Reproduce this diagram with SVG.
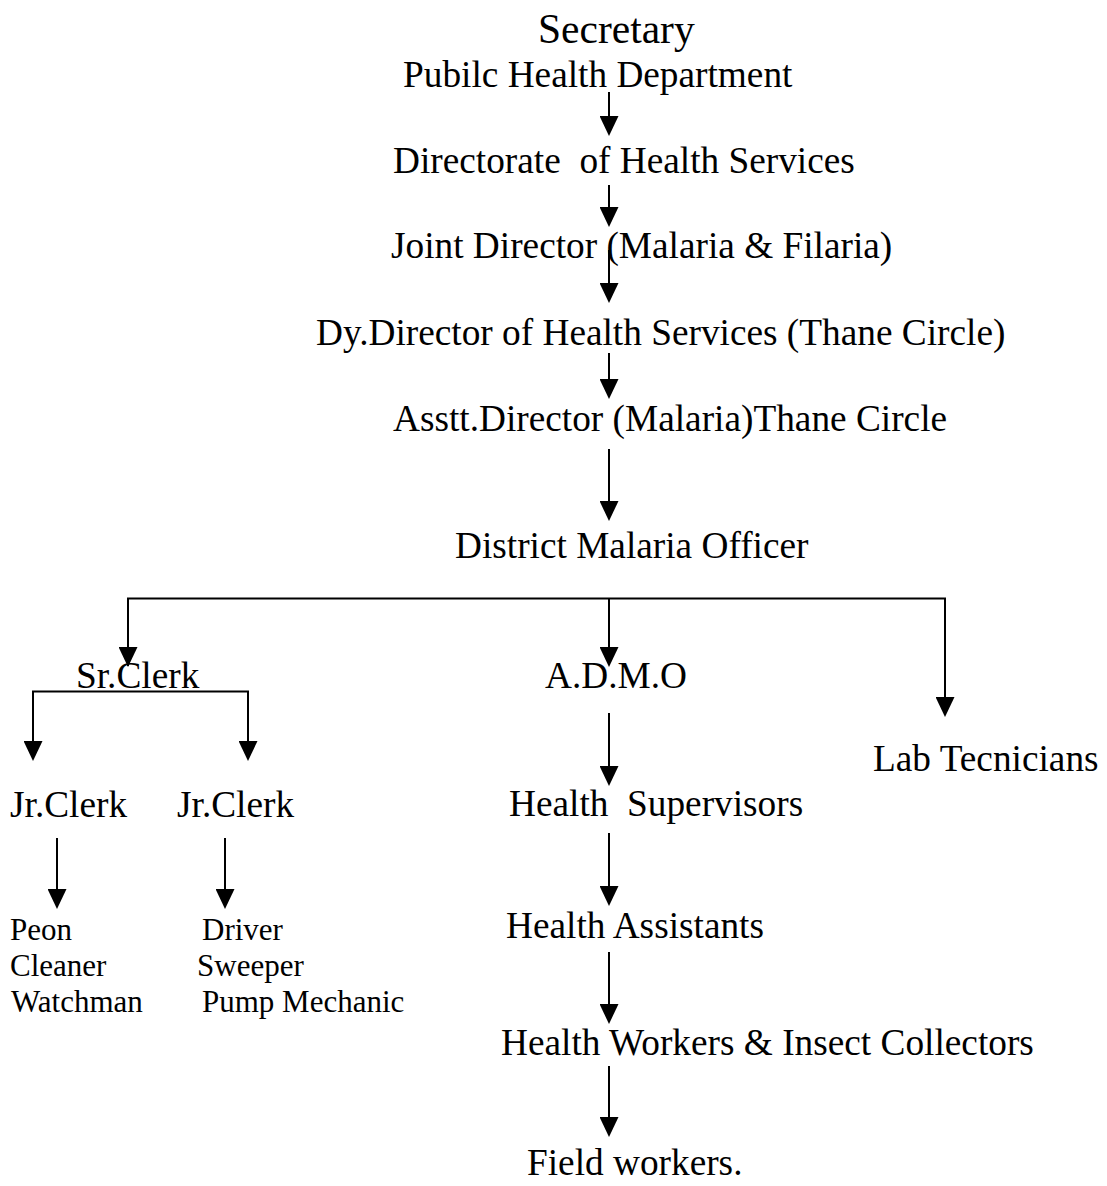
<svg xmlns="http://www.w3.org/2000/svg" width="1107" height="1186" viewBox="0 0 1107 1186">
<style>
text{font-family:"Liberation Serif","Times New Roman",serif;fill:#000;}
.t{font-size:37.3px;}
.s{font-size:31px;}
.big{font-size:41.5px;}
.c{fill:none;stroke:#000;stroke-width:2;}
.a{fill:none;stroke:#000;stroke-width:2;marker-end:url(#arr);}
</style>
<defs>
<marker id="arr" markerUnits="userSpaceOnUse" markerWidth="20" markerHeight="19" refX="18" refY="9.5" orient="auto">
<path d="M0,0 L20,9.5 L0,19 Z" fill="#000"/>
</marker>
</defs>
<rect width="1107" height="1186" fill="#fff"/>
<g id="connectors">
<line class="a" x1="609" y1="92" x2="609" y2="134"/>
<line class="a" x1="609" y1="185" x2="609" y2="225"/>
<line class="a" x1="609" y1="250" x2="609" y2="301"/>
<line class="a" x1="609" y1="353" x2="609" y2="397"/>
<line class="a" x1="609" y1="449" x2="609" y2="519"/>
<polyline class="c" points="128,666 128,598.5 945,598.5 945,700"/>
<line class="a" x1="128" y1="620" x2="128" y2="665"/>
<line class="a" x1="945" y1="660" x2="945" y2="715"/>
<line class="a" x1="609" y1="598.5" x2="609" y2="665"/>
<polyline class="c" points="33,740 33,691.5 248,691.5 248,740"/>
<line class="a" x1="33" y1="700" x2="33" y2="759"/>
<line class="a" x1="248" y1="700" x2="248" y2="759"/>
<line class="a" x1="57" y1="838" x2="57" y2="907"/>
<line class="a" x1="225" y1="838" x2="225" y2="907"/>
<line class="a" x1="609" y1="713" x2="609" y2="784"/>
<line class="a" x1="609" y1="833" x2="609" y2="904"/>
<line class="a" x1="609" y1="952" x2="609" y2="1022"/>
<line class="a" x1="609" y1="1066" x2="609" y2="1135"/>
</g>
<g id="secretary"><text class="big" x="538" y="43">Secretary</text>
<text class="t" x="403" y="87">Pubilc Health Department</text></g>
<g id="directorate"><text class="t" x="393" y="173" xml:space="preserve">Directorate  of Health Services</text></g>
<g id="joint-director"><text class="t" x="391" y="258">Joint Director (Malaria &amp; Filaria)</text></g>
<g id="dy-director"><text class="t" x="316" y="345">Dy.Director of Health Services (Thane Circle)</text></g>
<g id="asstt-director"><text class="t" x="393" y="431">Asstt.Director (Malaria)Thane Circle</text></g>
<g id="dmo"><text class="t" x="455" y="558">District Malaria Officer</text></g>
<g id="sr-clerk"><text class="t" x="76" y="688">Sr.Clerk</text></g>
<g id="admo"><text class="t" x="545" y="688">A.D.M.O</text></g>
<g id="lab"><text class="t" x="873" y="771">Lab Tecnicians</text></g>
<g id="jr-clerk-1"><text class="t" x="10" y="817">Jr.Clerk</text></g>
<g id="jr-clerk-2"><text class="t" x="177" y="817">Jr.Clerk</text></g>
<g id="health-supervisors"><text class="t" x="509" y="816" xml:space="preserve">Health  Supervisors</text></g>
<g id="staff-1"><text class="s" x="10" y="940">Peon</text>
<text class="s" x="10" y="976">Cleaner</text>
<text class="s" x="11" y="1012">Watchman</text></g>
<g id="staff-2"><text class="s" x="202" y="940">Driver</text>
<text class="s" x="197" y="976">Sweeper</text>
<text class="s" x="202" y="1012">Pump Mechanic</text></g>
<g id="health-assistants"><text class="t" x="506" y="938">Health Assistants</text></g>
<g id="health-workers"><text class="t" x="501" y="1055">Health Workers &amp; Insect Collectors</text></g>
<g id="field-workers"><text class="t" x="527" y="1175">Field workers.</text></g>
</svg>
